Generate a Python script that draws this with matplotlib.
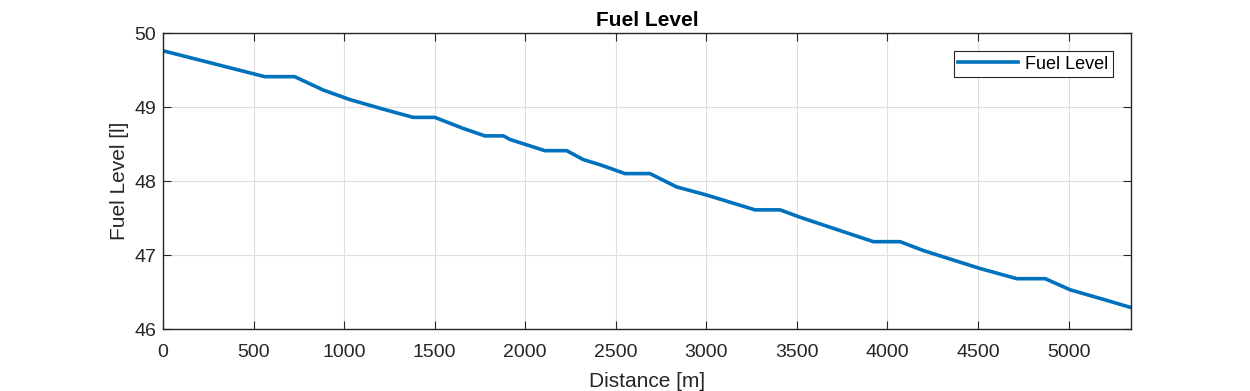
import matplotlib
matplotlib.use("Agg")
from matplotlib import pyplot as plt
import numpy as np

plt.rcParams['font.family'] = ['Liberation Sans', 'DejaVu Sans']

# distance [m] and fuel level [l]
distance = [0, 562, 727, 884, 1032, 1217, 1381, 1501, 1658, 1777, 1879, 1917,
            2045, 2108, 2229, 2320, 2413, 2551, 2689, 2836, 3002, 3149, 3269,
            3407, 3518, 3702, 3923, 4070, 4199, 4508, 4715, 4871, 5009, 5193, 5345]
fuel = [49.76, 49.41, 49.41, 49.23, 49.10, 48.97, 48.86, 48.86, 48.71, 48.61, 48.61, 48.56,
        48.46, 48.41, 48.41, 48.29, 48.22, 48.10, 48.10, 47.92, 47.81, 47.70, 47.61,
        47.61, 47.51, 47.36, 47.18, 47.18, 47.06, 46.82, 46.68, 46.68, 46.53, 46.40, 46.29]

fig = plt.figure(figsize=(12.5, 3.91), dpi=100)
ax = fig.add_axes([163/1250, 1-329/391, (1131-163)/1250, (329-33)/391])

ax.plot(distance, fuel, color='#0072BD', lw=2.6, label='Fuel Level')

ax.set_xlim(0, 5345)
ax.set_ylim(46, 50)
ax.set_xticks(np.arange(0, 5001, 500))
ax.set_yticks([46, 47, 48, 49, 50])
ax.grid(True, color='#dedede', lw=0.8)
ax.set_axisbelow(True)
ax.tick_params(direction='in', top=True, right=True, labelsize=14, length=6,
               colors='#262626', pad=5)
ax.tick_params(axis='x', pad=10.5)
for s in ax.spines.values():
    s.set_color('#262626')
    s.set_linewidth(1.0)

ax.set_xlabel('Distance [m]', fontsize=15, color='#262626', labelpad=8)
ax.set_ylabel('Fuel Level [l]', fontsize=15, color='#262626', labelpad=4)
ax.set_title('Fuel Level', fontsize=15, fontweight='bold', pad=5)

leg = ax.legend(loc='upper right', fontsize=13, fancybox=False, framealpha=1,
                edgecolor='#262626', handlelength=3.3, handletextpad=0.4,
                borderaxespad=1.0, borderpad=0.25)
leg.get_frame().set_linewidth(0.8)

plt.savefig('out.png', dpi=100)
